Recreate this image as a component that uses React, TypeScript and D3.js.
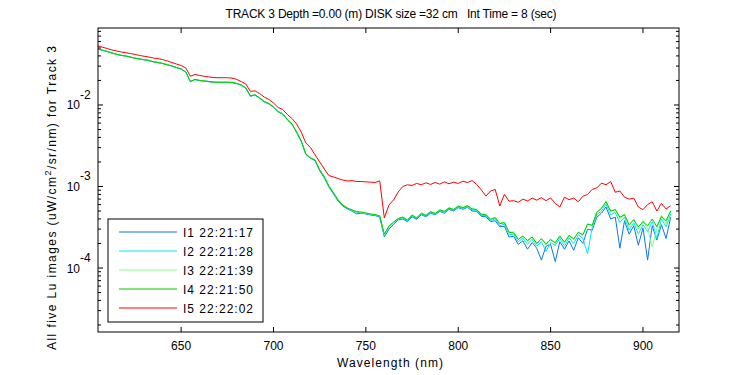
import React from 'react';
import * as d3 from 'd3';

const wavelengths = [
  605, 607.5, 610, 612.5, 615, 617.5, 620, 622.5, 625, 627.5,
  630, 632.5, 635, 637.5, 640, 642.5, 645, 647.5, 650, 652.5,
  655, 657.5, 660, 662.5, 665, 667.5, 670, 672.5, 675, 677.5,
  680, 682.5, 685, 687.5, 690, 692.5, 695, 697.5, 700, 702.5,
  705, 707.5, 710, 712.5, 715, 717.5, 720, 722.5, 725, 727.5,
  730, 732.5, 735, 737.5, 740, 742.5, 745, 747.5, 750, 752.5,
  755, 757.5, 760, 762.5, 765, 767.5,
  770, 772.5, 775, 777.5, 780, 782.5, 785, 787.5, 790, 792.5,
  795, 797.5, 800, 802.5, 805, 807.5, 810, 812.5, 815, 817.5,
  820, 822.5, 825, 827.5, 830, 832.5, 835, 837.5, 840, 842.5,
  845, 847.5, 850, 852.5, 855, 857.5, 860, 862.5, 865, 867.5,
  870, 872.5, 875, 877.5, 880, 882.5, 885, 887.5, 890, 892.5,
  895, 897.5, 900, 902.5, 905, 907.5, 910, 912.5, 915,
];

const i1Values = [
  0.0485, 0.0469, 0.0452, 0.0434, 0.0418, 0.0406, 0.0398, 0.0387, 0.0374, 0.0366,
  0.0358, 0.0351, 0.0338, 0.0331, 0.0322, 0.0311, 0.0300, 0.0287, 0.0276, 0.0253,
  0.0193, 0.0205, 0.0199, 0.0196, 0.0193, 0.0190, 0.0189, 0.0189, 0.0189, 0.0188,
  0.0183, 0.0175, 0.0161, 0.0128, 0.0132, 0.0121, 0.0109, 0.0103, 0.00938, 0.00826,
  0.00770, 0.00658, 0.00580, 0.00460, 0.00358, 0.00248, 0.00222, 0.00208, 0.00156, 0.00128,
  0.000985, 0.000810, 0.000660, 0.000575, 0.000530, 0.000500, 0.000460, 0.000473, 0.000460, 0.000447,
  0.000440, 0.000420, 0.000240, 0.000300, 0.000345, 0.000390,
  0.000400, 0.000370, 0.000425, 0.000395, 0.000450, 0.000425, 0.000470, 0.000450, 0.000495, 0.000470,
  0.000525, 0.000500, 0.000550, 0.000525, 0.000555, 0.000500, 0.000495, 0.000430, 0.000425, 0.000370,
  0.000380, 0.000320, 0.000325, 0.000240, 0.000245, 0.000195, 0.000215, 0.000170, 0.000205, 0.000175,
  0.000125, 0.000185, 0.000195, 0.000120, 0.000210, 0.000170, 0.000215, 0.000165, 0.000235, 0.000200,
  0.000300, 0.000290, 0.000420, 0.000470, 0.000560, 0.000400, 0.000420, 0.000175, 0.000380, 0.000260,
  0.000330, 0.000190, 0.000310, 0.000125, 0.000330, 0.000220, 0.000340, 0.000230, 0.000420,
];

const i2Values = [
  0.0486, 0.0470, 0.0453, 0.0435, 0.0419, 0.0407, 0.0399, 0.0388, 0.0375, 0.0367,
  0.0359, 0.0352, 0.0339, 0.0332, 0.0323, 0.0312, 0.0301, 0.0288, 0.0277, 0.0254,
  0.0195, 0.0206, 0.0200, 0.0197, 0.0194, 0.0191, 0.0190, 0.0190, 0.0190, 0.0189,
  0.0184, 0.0176, 0.0162, 0.0130, 0.0133, 0.0122, 0.0110, 0.0104, 0.00944, 0.00832,
  0.00776, 0.00664, 0.00585, 0.00466, 0.00362, 0.00251, 0.00224, 0.00211, 0.00159, 0.00131,
  0.00100, 0.000825, 0.000675, 0.000585, 0.000540, 0.000505, 0.000480, 0.000480, 0.000465, 0.000455,
  0.000447, 0.000428, 0.000250, 0.000315, 0.000360, 0.000398,
  0.000410, 0.000378, 0.000435, 0.000402, 0.000460, 0.000432, 0.000480, 0.000455, 0.000505, 0.000480,
  0.000535, 0.000510, 0.000565, 0.000535, 0.000570, 0.000515, 0.000510, 0.000440, 0.000440, 0.000380,
  0.000400, 0.000330, 0.000345, 0.000255, 0.000260, 0.000210, 0.000232, 0.000195, 0.000225, 0.000185,
  0.000210, 0.000160, 0.000205, 0.000190, 0.000232, 0.000185, 0.000235, 0.000200, 0.000255, 0.000230,
  0.000150, 0.000315, 0.000450, 0.000500, 0.000610, 0.000450, 0.000480, 0.000360, 0.000420, 0.000290,
  0.000360, 0.000260, 0.000340, 0.000280, 0.000370, 0.000230, 0.000400, 0.000320, 0.000460,
];

const i3Values = [
  0.0487, 0.0471, 0.0454, 0.0436, 0.0420, 0.0408, 0.0400, 0.0389, 0.0376, 0.0368,
  0.0360, 0.0353, 0.0340, 0.0333, 0.0324, 0.0313, 0.0302, 0.0289, 0.0278, 0.0255,
  0.0195, 0.0207, 0.0201, 0.0198, 0.0195, 0.0192, 0.0191, 0.0191, 0.0191, 0.0190,
  0.0185, 0.0177, 0.0163, 0.0130, 0.0134, 0.0123, 0.0111, 0.0105, 0.00950, 0.00838,
  0.00780, 0.00668, 0.00590, 0.00470, 0.00366, 0.00254, 0.00226, 0.00213, 0.00161, 0.00133,
  0.00102, 0.000840, 0.000690, 0.000598, 0.000548, 0.000512, 0.000490, 0.000482, 0.000470, 0.000458,
  0.000450, 0.000432, 0.000255, 0.000322, 0.000364, 0.000402,
  0.000425, 0.000392, 0.000450, 0.000415, 0.000475, 0.000448, 0.000495, 0.000470, 0.000520, 0.000500,
  0.000550, 0.000525, 0.000580, 0.000555, 0.000585, 0.000535, 0.000525, 0.000462, 0.000455, 0.000400,
  0.000420, 0.000355, 0.000365, 0.000270, 0.000280, 0.000222, 0.000250, 0.000210, 0.000242, 0.000195,
  0.000232, 0.000190, 0.000228, 0.000200, 0.000250, 0.000200, 0.000255, 0.000220, 0.000278, 0.000250,
  0.000350, 0.000325, 0.000490, 0.000530, 0.000660, 0.000490, 0.000530, 0.000400, 0.000460, 0.000320,
  0.000400, 0.000300, 0.000380, 0.000310, 0.000180, 0.000300, 0.000440, 0.000350, 0.000510,
];

const i4Values = [
  0.0486, 0.0470, 0.0453, 0.0435, 0.0419, 0.0407, 0.0399, 0.0388, 0.0375, 0.0367,
  0.0359, 0.0352, 0.0339, 0.0332, 0.0323, 0.0312, 0.0301, 0.0288, 0.0277, 0.0254,
  0.0194, 0.0206, 0.0200, 0.0197, 0.0194, 0.0191, 0.0190, 0.0190, 0.0190, 0.0189,
  0.0184, 0.0176, 0.0162, 0.0129, 0.0133, 0.0122, 0.0110, 0.0104, 0.00944, 0.00832,
  0.00776, 0.00664, 0.00585, 0.00466, 0.00362, 0.00251, 0.00224, 0.00211, 0.00159, 0.00131,
  0.00101, 0.000832, 0.000683, 0.000593, 0.000545, 0.000515, 0.000493, 0.000486, 0.000473, 0.000460,
  0.000453, 0.000435, 0.000261, 0.000328, 0.000367, 0.000405,
  0.000420, 0.000385, 0.000445, 0.000410, 0.000470, 0.000440, 0.000490, 0.000465, 0.000515, 0.000495,
  0.000545, 0.000520, 0.000575, 0.000550, 0.000580, 0.000530, 0.000520, 0.000455, 0.000450, 0.000395,
  0.000415, 0.000350, 0.000360, 0.000275, 0.000270, 0.000225, 0.000245, 0.000218, 0.000240, 0.000200,
  0.000228, 0.000198, 0.000222, 0.000205, 0.000245, 0.000208, 0.000250, 0.000228, 0.000272, 0.000258,
  0.000345, 0.000335, 0.000480, 0.000540, 0.000650, 0.000500, 0.000520, 0.000420, 0.000450, 0.000340,
  0.000390, 0.000320, 0.000370, 0.000330, 0.000400, 0.000320, 0.000430, 0.000380, 0.000500,
];

const i5Values = [
  0.0530, 0.0511, 0.0493, 0.0473, 0.0460, 0.0447, 0.0438, 0.0428, 0.0417, 0.0405,
  0.0396, 0.0388, 0.0377, 0.0370, 0.0361, 0.0347, 0.0332, 0.0318, 0.0305, 0.0284,
  0.0225, 0.0237, 0.0230, 0.0225, 0.0221, 0.0217, 0.0216, 0.0216, 0.0216, 0.0214,
  0.0206, 0.0194, 0.0181, 0.0147, 0.0149, 0.0138, 0.0125, 0.0117, 0.0106, 0.00931,
  0.00881, 0.00765, 0.00683, 0.00585, 0.00466, 0.00342, 0.00301, 0.00244, 0.00200, 0.00164,
  0.00136, 0.00131, 0.00125, 0.00120, 0.00117, 0.00118, 0.00115, 0.00115, 0.00114, 0.00113,
  0.00112, 0.00117, 0.000411, 0.000593, 0.000683, 0.000857,
  0.00100, 0.00105, 0.00103, 0.00109, 0.00105, 0.00111, 0.00106, 0.00112, 0.00107, 0.00114,
  0.00108, 0.00113, 0.00109, 0.00116, 0.00112, 0.00118, 0.00106, 0.000906, 0.000764, 0.000880,
  0.000920, 0.000577, 0.000800, 0.000660, 0.000670, 0.000640, 0.000700, 0.000665, 0.000720, 0.000680,
  0.000730, 0.000670, 0.000725, 0.000620, 0.000560, 0.000740, 0.000690, 0.000720, 0.000650, 0.000760,
  0.000800, 0.000920, 0.000960, 0.00110, 0.00105, 0.00115, 0.000850, 0.000880, 0.000740, 0.000700,
  0.000720, 0.000560, 0.000520, 0.000600, 0.000650, 0.000500, 0.000620, 0.000530, 0.000580,
];

const seriesNames = ['I1 22:21:17', 'I2 22:21:28', 'I3 22:21:39', 'I4 22:21:50', 'I5 22:22:02'];
const seriesData = [i1Values, i2Values, i3Values, i4Values, i5Values];
const xTickValues = [650, 700, 750, 800, 850, 900];
const yMajorExponents = [-2, -3, -4];
const xDomain = [605, 919.5];
const yDomain = [1.64e-5, 0.088];

const titleText = 'TRACK 3 Depth =0.00 (m) DISK size =32 cm   Int Time = 8 (sec)';
const xLabel = 'Wavelength (nm)';

const COLORS = ['#0a78f0', '#00e8f0', '#80ff80', '#00c800', '#ff0000'];
const FONT = '"Liberation Sans", Arial, Helvetica, sans-serif';

export default function App() {
  const L = 98, R = 679, T = 28, B = 332;
  const x = d3.scaleLinear().domain(xDomain).range([L, R]);
  const y = d3.scaleLog().domain(yDomain).range([B, T]);

  const line = d3
    .line<[number, number]>()
    .x((d) => x(d[0]))
    .y((d) => y(d[1]));

  const minorTicks: number[] = [];
  for (let e = -5; e <= -1; e++) {
    for (let k = 2; k <= 9; k++) {
      const v = k * Math.pow(10, e);
      if (v > yDomain[0] && v < yDomain[1]) minorTicks.push(v);
    }
  }

  const legX = 108, legY = 219, legW = 155, legH = 103;
  const rowY = (i: number) => 232 + i * 19;

  return (
    <svg
      width={750}
      height={375}
      style={{ position: 'absolute', left: 0, top: 0, background: '#fff' }}
      fontFamily={FONT}
    >
      <rect x={0} y={0} width={750} height={375} fill="#fff" />
      <defs>
        <clipPath id="plotclip">
          <rect x={L} y={T} width={R - L} height={B - T} />
        </clipPath>
      </defs>
      <g clipPath="url(#plotclip)">
        {seriesData.map((vals, si) => (
          <path
            key={si}
            d={line(wavelengths.map((w, i) => [w, vals[i]] as [number, number])) || ''}
            fill="none"
            stroke={COLORS[si]}
            strokeWidth={1}
          />
        ))}
      </g>
      <rect x={L} y={T} width={R - L} height={B - T} fill="none" stroke="#000" strokeWidth={1} />
      {xTickValues.map((t) => (
        <g key={t}>
          <line x1={x(t)} x2={x(t)} y1={B} y2={B - 5} stroke="#000" />
          <line x1={x(t)} x2={x(t)} y1={T} y2={T + 5} stroke="#000" />
          <text x={x(t)} y={350} fontSize={12} textAnchor="middle" fill="#000">
            {t}
          </text>
        </g>
      ))}
      {minorTicks.map((v, i) => (
        <g key={'m' + i}>
          <line x1={L} x2={L + 3} y1={y(v)} y2={y(v)} stroke="#000" />
          <line x1={R} x2={R - 3} y1={y(v)} y2={y(v)} stroke="#000" />
        </g>
      ))}
      {yMajorExponents.map((e) => {
        const yy = y(Math.pow(10, e));
        return (
          <g key={e}>
            <line x1={L} x2={L + 5} y1={yy} y2={yy} stroke="#000" />
            <line x1={R} x2={R - 5} y1={yy} y2={yy} stroke="#000" />
            <text x={80} y={yy + 4.5} fontSize={12} textAnchor="end" fill="#000">
              10
            </text>
            <text x={80} y={yy - 6} fontSize={12} textAnchor="start" fill="#000">
              {String(e)}
            </text>
          </g>
        );
      })}
      <text x={391} y={18} fontSize={12} textAnchor="middle" fill="#000" xmlSpace="preserve"
        textLength={331} lengthAdjust="spacing">
        {titleText}
      </text>
      <text x={390} y={367} fontSize={12} textAnchor="middle" fill="#000"
        textLength={106} lengthAdjust="spacing">
        {xLabel}
      </text>
      <text
        transform="translate(56,198) rotate(-90)"
        fontSize={12}
        textAnchor="middle"
        fill="#000"
        textLength={304}
        lengthAdjust="spacing"
      >
        All five Lu images (uW/cm<tspan dy={-5} fontSize={9}>2</tspan>
        <tspan dy={5}>/sr/nm) for Track 3</tspan>
      </text>
      <rect x={legX} y={legY} width={legW} height={legH} fill="#fff" stroke="#000" strokeWidth={1} />
      {seriesNames.map((n, i) => (
        <g key={n}>
          <line x1={119} x2={177} y1={rowY(i)} y2={rowY(i)} stroke={COLORS[i]} strokeWidth={1} />
          <text x={183} y={rowY(i) + 4.5} fontSize={12} fill="#000" textLength={70} lengthAdjust="spacing">
            {n}
          </text>
        </g>
      ))}
    </svg>
  );
}
